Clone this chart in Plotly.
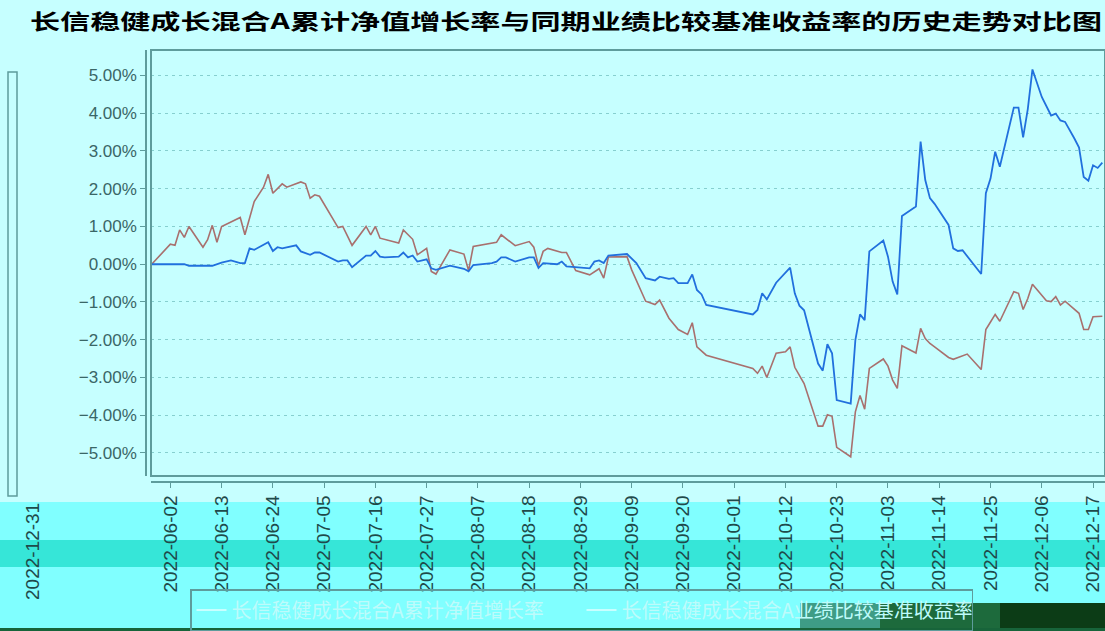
import plotly.graph_objects as go

title_text = "长信稳健成长混合A累计净值增长率与同期业绩比较基准收益率的历史走势对比图"
fund_name = "长信稳健成长混合A累计净值增长率"
bench_name = "长信稳健成长混合A业绩比较基准收益率"

fund_dates = [
    "2022-05-29", "2022-06-05", "2022-06-06", "2022-06-11", "2022-06-13", "2022-06-15",
    "2022-06-17", "2022-06-18", "2022-06-19", "2022-06-20", "2022-06-23", "2022-06-24",
    "2022-06-25", "2022-06-26", "2022-06-29", "2022-06-30", "2022-07-02", "2022-07-03",
    "2022-07-04", "2022-07-08", "2022-07-09", "2022-07-10", "2022-07-11", "2022-07-14",
    "2022-07-15", "2022-07-16", "2022-07-17", "2022-07-18", "2022-07-21", "2022-07-22",
    "2022-07-23", "2022-07-24", "2022-07-25", "2022-07-27", "2022-07-28", "2022-07-29",
    "2022-08-01", "2022-08-04", "2022-08-05", "2022-08-06", "2022-08-10", "2022-08-11",
    "2022-08-12", "2022-08-13", "2022-08-15", "2022-08-18", "2022-08-19", "2022-08-20",
    "2022-08-21", "2022-08-24", "2022-08-25", "2022-08-26", "2022-08-31", "2022-09-01",
    "2022-09-02", "2022-09-03", "2022-09-04", "2022-09-08", "2022-09-10", "2022-09-12",
    "2022-09-14", "2022-09-15", "2022-09-17", "2022-09-18", "2022-09-19", "2022-09-21",
    "2022-09-22", "2022-09-23", "2022-09-24", "2022-09-25", "2022-10-05", "2022-10-06",
    "2022-10-07", "2022-10-08", "2022-10-10", "2022-10-13", "2022-10-14", "2022-10-15",
    "2022-10-16", "2022-10-19", "2022-10-20", "2022-10-21", "2022-10-22", "2022-10-23",
    "2022-10-26", "2022-10-27", "2022-10-28", "2022-10-29", "2022-10-30", "2022-11-02",
    "2022-11-03", "2022-11-04", "2022-11-05", "2022-11-06", "2022-11-09", "2022-11-10",
    "2022-11-11", "2022-11-12", "2022-11-13", "2022-11-16", "2022-11-17", "2022-11-18",
    "2022-11-19", "2022-11-23", "2022-11-24", "2022-11-25", "2022-11-26", "2022-11-27",
    "2022-11-30", "2022-12-01", "2022-12-02", "2022-12-03", "2022-12-04", "2022-12-06",
    "2022-12-08", "2022-12-09", "2022-12-10", "2022-12-11", "2022-12-13", "2022-12-14",
    "2022-12-15", "2022-12-16", "2022-12-17", "2022-12-18", "2022-12-19",
]
fund_values = [
    0.00, 0.00, -0.04, -0.04, 0.04, 0.10,
    0.03, 0.03, 0.42, 0.38, 0.58, 0.35,
    0.45, 0.42, 0.50, 0.34, 0.25, 0.31,
    0.31, 0.07, 0.10, 0.10, -0.08, 0.23,
    0.23, 0.35, 0.20, 0.18, 0.20, 0.31,
    0.18, 0.23, 0.07, 0.13, -0.11, -0.15,
    -0.04, -0.12, -0.19, -0.02, 0.03, 0.07,
    0.18, 0.18, 0.07, 0.18, 0.18, -0.10,
    0.03, 0.00, 0.07, -0.06, -0.11, 0.07,
    0.10, 0.03, 0.23, 0.27, 0.03, -0.37,
    -0.43, -0.33, -0.39, -0.37, -0.50, -0.50,
    -0.27, -0.68, -0.80, -1.08, -1.33, -1.21,
    -0.77, -0.93, -0.49, -0.09, -0.77, -1.10,
    -1.22, -2.63, -2.82, -2.12, -2.36, -3.60,
    -3.69, -2.01, -1.33, -1.48, 0.34, 0.63,
    0.20, -0.46, -0.80, 1.28, 1.53, 3.25,
    2.23, 1.75, 1.60, 1.04, 0.42, 0.35,
    0.37, -0.26, 1.88, 2.27, 2.98, 2.58,
    4.15, 4.15, 3.36, 4.11, 5.16, 4.43,
    3.94, 3.99, 3.81, 3.77, 3.33, 3.09,
    2.31, 2.21, 2.62, 2.55, 2.69,
]

bench_dates = [
    "2022-05-29", "2022-06-02", "2022-06-03", "2022-06-04", "2022-06-05", "2022-06-06",
    "2022-06-09", "2022-06-10", "2022-06-11", "2022-06-12", "2022-06-13", "2022-06-15",
    "2022-06-17", "2022-06-18", "2022-06-20", "2022-06-22", "2022-06-23", "2022-06-24",
    "2022-06-26", "2022-06-27", "2022-06-30", "2022-07-01", "2022-07-02", "2022-07-03",
    "2022-07-04", "2022-07-08", "2022-07-09", "2022-07-11", "2022-07-14", "2022-07-15",
    "2022-07-16", "2022-07-17", "2022-07-21", "2022-07-22", "2022-07-24", "2022-07-25",
    "2022-07-27", "2022-07-28", "2022-07-29", "2022-08-01", "2022-08-04", "2022-08-05",
    "2022-08-06", "2022-08-11", "2022-08-12", "2022-08-15", "2022-08-18", "2022-08-19",
    "2022-08-20", "2022-08-21", "2022-08-22", "2022-08-25", "2022-08-26", "2022-08-28",
    "2022-08-31", "2022-09-02", "2022-09-03", "2022-09-04", "2022-09-08", "2022-09-09",
    "2022-09-10", "2022-09-12", "2022-09-14", "2022-09-15", "2022-09-17", "2022-09-19",
    "2022-09-21", "2022-09-22", "2022-09-23", "2022-09-25", "2022-10-05", "2022-10-06",
    "2022-10-07", "2022-10-08", "2022-10-10", "2022-10-12", "2022-10-13", "2022-10-14",
    "2022-10-16", "2022-10-19", "2022-10-20", "2022-10-21", "2022-10-22", "2022-10-23",
    "2022-10-26", "2022-10-27", "2022-10-28", "2022-10-29", "2022-10-30", "2022-11-02",
    "2022-11-03", "2022-11-04", "2022-11-05", "2022-11-06", "2022-11-09", "2022-11-10",
    "2022-11-11", "2022-11-12", "2022-11-13", "2022-11-16", "2022-11-17", "2022-11-18",
    "2022-11-20", "2022-11-23", "2022-11-24", "2022-11-25", "2022-11-26", "2022-11-27",
    "2022-11-30", "2022-12-01", "2022-12-02", "2022-12-03", "2022-12-04", "2022-12-07",
    "2022-12-08", "2022-12-09", "2022-12-10", "2022-12-11", "2022-12-14", "2022-12-15",
    "2022-12-16", "2022-12-17", "2022-12-18", "2022-12-19",
]
bench_values = [
    0.00, 0.53, 0.50, 0.91, 0.71, 1.00,
    0.45, 0.65, 1.03, 0.58, 1.00, 1.11,
    1.24, 0.78, 1.66, 2.04, 2.38, 1.88,
    2.13, 2.04, 2.18, 2.13, 1.75, 1.84,
    1.80, 0.97, 1.00, 0.50, 1.00, 0.78,
    1.00, 0.69, 0.56, 0.91, 0.66, 0.25,
    0.42, -0.19, -0.26, 0.38, 0.27, -0.17,
    0.47, 0.58, 0.78, 0.49, 0.60, 0.45,
    -0.04, 0.34, 0.42, 0.31, 0.31, -0.17,
    -0.28, -0.12, -0.37, 0.19, 0.20, -0.15,
    -0.43, -0.98, -1.07, -0.95, -1.43, -1.73,
    -1.86, -1.55, -2.19, -2.41, -2.76, -2.89,
    -2.70, -3.00, -2.36, -2.32, -2.19, -2.73,
    -3.16, -4.29, -4.29, -3.99, -4.03, -4.85,
    -5.10, -3.91, -3.48, -3.84, -2.76, -2.51,
    -2.70, -3.07, -3.29, -2.16, -2.35, -1.70,
    -1.97, -2.10, -2.19, -2.47, -2.52, -2.47,
    -2.38, -2.79, -1.73, -1.53, -1.33, -1.51,
    -0.73, -0.77, -1.20, -0.91, -0.53, -0.97,
    -0.99, -0.86, -1.08, -0.98, -1.30, -1.73,
    -1.73, -1.39, -1.38, -1.38,
]

y_tick_values = [-5, -4, -3, -2, -1, 0, 1, 2, 3, 4, 5]
y_tick_labels = [("\u2212" if v < 0 else "") + f"{abs(v):.2f}%" for v in y_tick_values]
x_tick_start = "2022-06-02"
x_tick_step_days = 11
x_range = ["2022-05-28 20:24", "2022-12-19 13:40"]
y_range = [-5.61, 5.675]
last_date_label = "2022-12-31"

W, H = 1105, 631
L, T, B, R = 146, 50, 149, 0
PW, PH = W - L - R, H - T - B

BG = "#C6FFFF"
AXIS = "#5E9C9C"
FUND_COLOR = "#2170DD"
BENCH_COLOR = "#A8706E"

def px_x(x):
    return (x - L) / PW

def px_y(y):
    return (H - B - y) / PH

fig = go.Figure()
fig.add_trace(go.Scatter(x=bench_dates, y=bench_values, mode="lines",
                         line=dict(color=BENCH_COLOR, width=1.6), showlegend=False,
                         name=bench_name))
fig.add_trace(go.Scatter(x=fund_dates, y=fund_values, mode="lines",
                         line=dict(color=FUND_COLOR, width=1.8), showlegend=False,
                         name=fund_name))
# legend entries (drawn pale, as in the reference)
fig.add_trace(go.Scatter(x=[None], y=[None], mode="lines",
                         line=dict(color="#C9FFFF", width=2), name=fund_name))
fig.add_trace(go.Scatter(x=[None], y=[None], mode="lines",
                         line=dict(color="#C9FFFF", width=2), name=bench_name))

shapes = [
    dict(type="rect", xref="paper", yref="paper", x0=px_x(0), x1=px_x(W), y0=px_y(540), y1=px_y(502),
         fillcolor="#80FFFF", line=dict(width=0), layer="below"),
    dict(type="rect", xref="paper", yref="paper", x0=px_x(0), x1=px_x(W), y0=px_y(567), y1=px_y(540),
         fillcolor="#36E6D8", line=dict(width=0), layer="below"),
    dict(type="rect", xref="paper", yref="paper", x0=px_x(0), x1=px_x(W), y0=px_y(H), y1=px_y(567),
         fillcolor="#80FFFF", line=dict(width=0), layer="below"),
    dict(type="rect", xref="paper", yref="paper", x0=px_x(151), x1=1.0, y0=px_y(476), y1=1.0,
         line=dict(color=AXIS, width=2), layer="above"),
    dict(type="rect", xref="paper", yref="paper", x0=px_x(8), x1=px_x(17), y0=px_y(496), y1=px_y(72),
         line=dict(color=AXIS, width=1.5), layer="above"),
    dict(type="rect", xref="paper", yref="paper", x0=px_x(800), x1=px_x(880), y0=px_y(H), y1=px_y(603),
         fillcolor="#3E9C86", line=dict(width=0), layer="above"),
    dict(type="rect", xref="paper", yref="paper", x0=px_x(880), x1=px_x(1000), y0=px_y(H), y1=px_y(603),
         fillcolor="#1D6A3C", line=dict(width=0), layer="above"),
    dict(type="rect", xref="paper", yref="paper", x0=px_x(1000), x1=px_x(W), y0=px_y(H), y1=px_y(603),
         fillcolor="#0C3C16", line=dict(width=0), layer="above"),
    dict(type="rect", xref="paper", yref="paper", x0=px_x(0), x1=px_x(W), y0=px_y(H), y1=px_y(628),
         fillcolor="#17643A", line=dict(width=0), layer="above"),
]

fig.update_layout(
    width=W, height=H,
    margin=dict(l=L, r=R, t=T, b=B, pad=0),
    paper_bgcolor=BG, plot_bgcolor=BG,
    title=dict(text=title_text, x=30 / W, xanchor="left", y=1 - 22 / H, yanchor="middle",
               font=dict(family="Noto Sans CJK SC", size=21, color="#000000", weight="bold")),
    xaxis=dict(type="date", domain=[px_x(151), 1.0], range=x_range, automargin=False,
               tick0=x_tick_start, dtick=x_tick_step_days * 86400000, tickformat="%Y-%m-%d",
               tickangle=-90, ticks="outside", ticklen=5, tickcolor=AXIS, tickwidth=1,
               showline=True, linecolor=AXIS, linewidth=1.5, anchor="free", position=0,
               showgrid=False, zeroline=False,
               tickfont=dict(family="Liberation Sans", size=19, color="#1F4A4A")),
    yaxis=dict(domain=[px_y(476), 1.0], range=y_range, tickmode="array", automargin=False,
               tickvals=y_tick_values, ticktext=y_tick_labels,
               ticks="outside", ticklen=5, tickcolor=AXIS,
               showline=True, linecolor=AXIS, linewidth=1.5, anchor="free", position=0,
               showgrid=True, gridcolor="#86CFCF", gridwidth=1, griddash="3px,4px",
               zeroline=False,
               tickfont=dict(family="Liberation Sans", size=17, color="#3A6666")),
    legend=dict(orientation="h", x=px_x(190), xanchor="left", y=px_y(631), yanchor="bottom",
                bordercolor=AXIS, borderwidth=1.5, bgcolor="rgba(0,0,0,0)",
                entrywidth=345, entrywidthmode="pixels",
                font=dict(family="Noto Sans CJK SC", size=20, color="#BEFBFB")),
    shapes=shapes,
    annotations=[dict(text=last_date_label, xref="paper", yref="paper", x=px_x(32), y=px_y(552),
                      textangle=-90, showarrow=False, xanchor="center", yanchor="middle",
                      font=dict(family="Liberation Sans", size=19, color="#1F4A4A"))],
    showlegend=True,
)

post = """
document.documentElement.style.margin = '0';
document.body.style.margin = '0';
document.body.style.overflow = 'hidden';
var t = document.querySelector('.gtitle');
if (t) { t.setAttribute('textLength', '1072'); t.setAttribute('lengthAdjust', 'spacingAndGlyphs'); }
"""
fig.write_html("out.html", post_script=post, config={"displayModeBar": False})
